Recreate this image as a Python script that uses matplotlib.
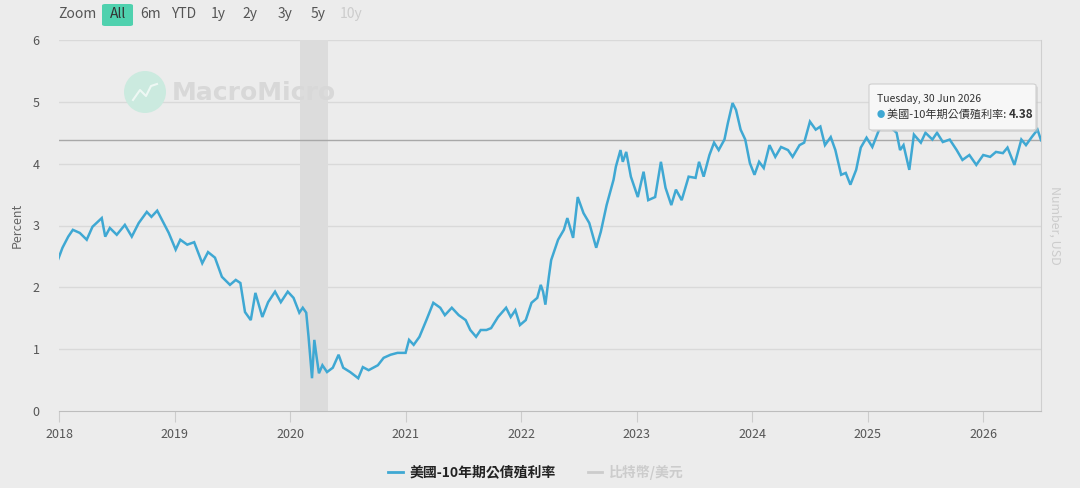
import numpy as np
import matplotlib.pyplot as plt
from matplotlib.patches import FancyBboxPatch, Ellipse

plt.rcParams['font.family'] = ['Noto Sans CJK TC', 'DejaVu Sans']

# Daty jako ułamek roku, wartości w procentach
years = [
    2017.99, 2018.03, 2018.08, 2018.12, 2018.18, 2018.24, 2018.29, 2018.37, 2018.40, 2018.44,
    2018.50, 2018.57, 2018.63, 2018.69, 2018.76, 2018.80, 2018.85, 2018.90, 2018.95, 2019.01,
    2019.05, 2019.11, 2019.17, 2019.24, 2019.29, 2019.35, 2019.41, 2019.48, 2019.53, 2019.57,
    2019.61, 2019.66, 2019.70, 2019.76, 2019.81, 2019.87, 2019.92, 2019.98, 2020.03, 2020.08,
    2020.11, 2020.14, 2020.16, 2020.19, 2020.21, 2020.23, 2020.25, 2020.28, 2020.32, 2020.37,
    2020.42, 2020.46, 2020.52, 2020.59, 2020.63, 2020.68, 2020.76, 2020.81, 2020.87, 2020.93,
    2021.00, 2021.03, 2021.07, 2021.12, 2021.18, 2021.24, 2021.30, 2021.34, 2021.40, 2021.46,
    2021.52, 2021.56, 2021.61, 2021.65, 2021.70, 2021.74, 2021.80, 2021.87, 2021.91, 2021.95,
    2021.99, 2022.04, 2022.09, 2022.14, 2022.17, 2022.19, 2022.21, 2022.24,
    2022.26, 2022.32, 2022.37, 2022.40, 2022.45, 2022.49, 2022.54, 2022.59, 2022.65, 2022.69,
    2022.74, 2022.80, 2022.82, 2022.86, 2022.88, 2022.91, 2022.95, 2023.01, 2023.06, 2023.10,
    2023.16, 2023.21, 2023.25, 2023.30, 2023.34, 2023.39, 2023.45, 2023.51, 2023.54, 2023.58,
    2023.63, 2023.67, 2023.71, 2023.76, 2023.79, 2023.83, 2023.86, 2023.90, 2023.94, 2023.98,
    2024.02, 2024.06, 2024.10, 2024.15, 2024.20, 2024.25, 2024.31, 2024.35, 2024.41, 2024.45,
    2024.50, 2024.55, 2024.59, 2024.63, 2024.68, 2024.72, 2024.77, 2024.81, 2024.85, 2024.90,
    2024.94, 2024.99, 2025.04, 2025.09, 2025.13, 2025.19, 2025.25, 2025.28, 2025.31, 2025.36,
    2025.40, 2025.46, 2025.50, 2025.56, 2025.60, 2025.65, 2025.71, 2025.77, 2025.82, 2025.88,
    2025.94, 2026.00, 2026.06, 2026.11, 2026.17, 2026.21, 2026.27, 2026.33, 2026.37, 2026.42,
    2026.47, 2026.50,
]
yields = [
    2.44, 2.64, 2.82, 2.93, 2.88, 2.77, 2.98, 3.12, 2.82, 2.96,
    2.85, 3.01, 2.82, 3.04, 3.22, 3.14, 3.24, 3.06, 2.88, 2.61,
    2.77, 2.69, 2.73, 2.39, 2.57, 2.48, 2.17, 2.04, 2.12, 2.07,
    1.60, 1.47, 1.91, 1.52, 1.76, 1.93, 1.76, 1.93, 1.83, 1.59,
    1.67, 1.59, 1.20, 0.53, 1.15, 0.87, 0.61, 0.74, 0.63, 0.70,
    0.91, 0.70, 0.63, 0.53, 0.71, 0.66, 0.74, 0.86, 0.91, 0.94,
    0.94, 1.15, 1.07, 1.20, 1.47, 1.75, 1.67, 1.55, 1.67, 1.55,
    1.47, 1.31, 1.20, 1.31, 1.31, 1.34, 1.52, 1.67, 1.52, 1.63,
    1.39, 1.47, 1.75, 1.83, 2.04, 1.93, 1.72, 2.17,
    2.44, 2.77, 2.93, 3.12, 2.80, 3.46, 3.20, 3.04, 2.64, 2.90,
    3.33, 3.74, 3.95, 4.22, 4.03, 4.19, 3.79, 3.46, 3.87, 3.41,
    3.46, 4.03, 3.61, 3.33, 3.58, 3.41, 3.79, 3.77, 4.03, 3.79,
    4.14, 4.34, 4.22, 4.39, 4.66, 4.98, 4.87, 4.55, 4.39, 4.01,
    3.82, 4.03, 3.93, 4.30, 4.11, 4.27, 4.22, 4.11, 4.30, 4.34,
    4.68, 4.55, 4.60, 4.30, 4.43, 4.22, 3.82, 3.85, 3.66, 3.90,
    4.26, 4.42, 4.27, 4.51, 4.66, 4.60, 4.50, 4.22, 4.30, 3.90,
    4.47, 4.34, 4.50, 4.39, 4.50, 4.35, 4.39, 4.22, 4.06, 4.14,
    3.98, 4.14, 4.11, 4.19, 4.17, 4.26, 3.98, 4.39, 4.30, 4.43,
    4.55, 4.38,
]

y_ticks = [0, 1, 2, 3, 4, 5, 6]
x_ticks = [2018, 2019, 2020, 2021, 2022, 2023, 2024, 2025, 2026]
recession = (2020.09, 2020.33)
last_value = 4.38
last_date = 'Tuesday, 30 Jun 2026'
series_name = '美國-10年期公債殖利率'
other_name = '比特幣/美元'
zoom_buttons = ['6m', 'YTD', '1y', '2y', '3y', '5y']

BG = '#ececec'
LINE = '#3fa8d3'
W, H = 1080, 488


# Pozycja w pikselach (od lewego górnego rogu) -> współrzędne figury
def fx(px):
    return px / W


def fy(py):
    return 1 - py / H


fig = plt.figure(figsize=(10.8, 4.88), dpi=100, facecolor=BG)
ax = fig.add_axes([fx(59), fy(411), 982 / W, 371 / H])
ax.set_facecolor(BG)

ax.set_xlim(2018, 2026.5)
ax.set_ylim(0, 6)

# Siatka pozioma
for t in y_ticks[1:]:
    ax.axhline(t, color='#d9d9d9', lw=1, zorder=0)

ax.axvspan(*recession, color='#dcdcdc', lw=0, zorder=0.5)
ax.axhline(last_value, color='#a8a8a8', lw=1, zorder=1)

ax.plot(years, yields, color=LINE, lw=1.8, zorder=3, solid_joinstyle='miter')

for s in ['top', 'left']:
    ax.spines[s].set_visible(False)
ax.spines['right'].set_color('#cfcfcf')
ax.spines['bottom'].set_color('#bdbdbd')

ax.set_yticks(y_ticks)
ax.set_xticks(x_ticks)
ax.set_xticklabels([str(x) for x in x_ticks])
ax.tick_params(axis='y', length=0, pad=14, labelsize=9, labelcolor='#555555')
ax.tick_params(axis='x', length=8, color='#cccccc', pad=4, labelsize=9, labelcolor='#555555')
ax.set_ylabel('Percent', color='#666666', fontsize=9, labelpad=6)

fig.text(fx(1055), fy(225), 'Number, USD', rotation=270, color='#cccccc',
         fontsize=9, ha='center', va='center')

# Znak wodny
fig.patches.append(Ellipse((fx(145), fy(92)), 42 / W, 42 / H, transform=fig.transFigure,
                           facecolor='#cbeadf', edgecolor='none', zorder=1))
fig.lines.append(plt.Line2D([fx(133), fx(140), fx(146), fx(151), fx(157)],
                            [fy(100), fy(90), fy(96), fy(86), fy(84)], color='#eef8f4',
                            lw=1.5, transform=fig.transFigure, zorder=2))
fig.text(fx(172), fy(93), 'MacroMicro', color='#d8d8d8', fontsize=18, fontweight='bold',
         ha='left', va='center', family=['DejaVu Sans'])

# Przyciski zakresu
fig.text(fx(58), fy(14), 'Zoom', color='#555555', fontsize=10, va='center')
fig.patches.append(FancyBboxPatch((fx(102), fy(26)), 31 / W, 22 / H,
                                  boxstyle='round,pad=0,rounding_size=0.003',
                                  transform=fig.transFigure, facecolor='#4fd1ae',
                                  edgecolor='none'))
fig.text(fx(118), fy(14), 'All', color='#333333', fontsize=10, ha='center', va='center')
for label, px in zip(zoom_buttons, [151, 184, 218, 250, 285, 318]):
    fig.text(fx(px), fy(14), label, color='#555555', fontsize=10, ha='center', va='center')
fig.text(fx(351), fy(14), '10y', color='#cccccc', fontsize=10, ha='center', va='center')

# Dymek z ostatnią wartością
fig.patches.append(FancyBboxPatch((fx(871), fy(132)), 167 / W, 46 / H,
                                  boxstyle='round,pad=0,rounding_size=0.003',
                                  transform=fig.transFigure, facecolor='#c4c4c4',
                                  edgecolor='none', alpha=0.5, zorder=4))
fig.patches.append(FancyBboxPatch((fx(869), fy(130)), 167 / W, 46 / H,
                                  boxstyle='round,pad=0,rounding_size=0.003',
                                  transform=fig.transFigure, facecolor='#f7f7f7',
                                  edgecolor='#cfcfcf', lw=0.8, zorder=5))
fig.text(fx(877), fy(99), last_date, color='#333333', fontsize=7.5, va='center', zorder=6)
fig.text(fx(877), fy(115), '●', color=LINE, fontsize=6, va='center', zorder=6)
name_txt = fig.text(fx(887), fy(115), series_name + ': ', color='#333333', fontsize=8,
                    va='center', zorder=6)
fig.add_artist(plt.Annotation(f'{last_value:.2f}', xy=(1, 0.5), xycoords=name_txt,
                              va='center', ha='left', color='#333333', fontsize=8.5,
                              fontweight='bold', zorder=6))

# Legenda
fig.lines.append(plt.Line2D([fx(388), fx(403)], [fy(472)] * 2, color=LINE, lw=2,
                            transform=fig.transFigure))
fig.text(fx(410), fy(472), series_name, color='#222222', fontsize=10,
         fontweight='bold', va='center')
fig.lines.append(plt.Line2D([fx(588), fx(602)], [fy(472)] * 2, color='#cccccc', lw=2,
                            transform=fig.transFigure))
fig.text(fx(609), fy(472), other_name, color='#cccccc', fontsize=10,
         fontweight='bold', va='center')

fig.savefig('out.png', dpi=100, facecolor=BG)
